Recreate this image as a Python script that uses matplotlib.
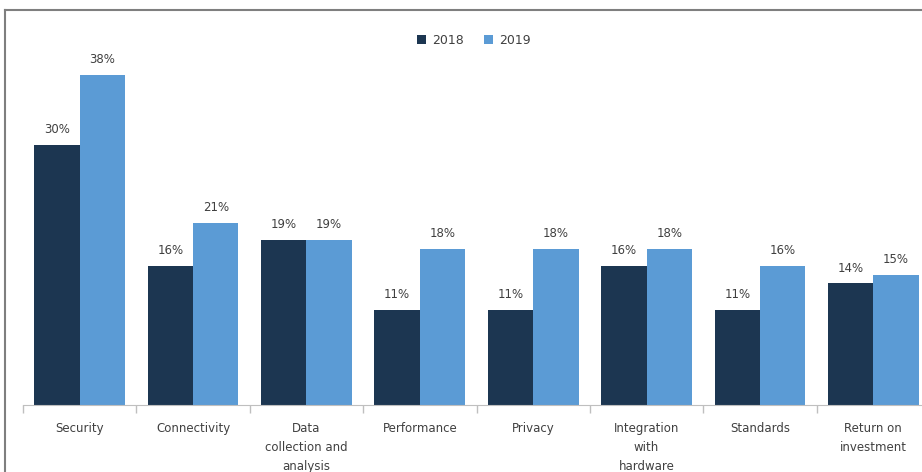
import matplotlib.pyplot as plt
import numpy as np
from matplotlib.lines import Line2D

categories = ["Security", "Connectivity", "Data\ncollection and\nanalysis", "Performance",
              "Privacy", "Integration\nwith\nhardware", "Standards", "Return on\ninvestment"]
vals_2018 = [30, 16, 19, 11, 11, 16, 11, 14]
vals_2019 = [38, 21, 19, 18, 18, 18, 16, 15]

c2018 = "#1c3651"
c2019 = "#5b9bd5"
txt = "#404040"

fig = plt.figure(figsize=(9.22, 4.72), dpi=100)
# axes spans past right edge, like the cropped reference
ax = fig.add_axes([23 / 922, 67 / 472, 907 / 922, 385 / 472])

x = np.arange(len(categories))
w = 0.4
b1 = ax.bar(x - w / 2, vals_2018, w, color=c2018, label="2018")
b2 = ax.bar(x + w / 2, vals_2019, w, color=c2019, label="2019")

for bars, vals in ((b1, vals_2018), (b2, vals_2019)):
    for r, v in zip(bars, vals):
        ax.text(r.get_x() + r.get_width() / 2, v + 1.0, f"{v}%", ha="center", va="bottom",
                fontsize=8.5, color=txt)

ax.set_xlim(-0.5, len(categories) - 0.5)
ax.set_ylim(0, 385 / 8.68)
ax.set_xticks(np.arange(len(categories) + 1) - 0.5, minor=False)
ax.set_xticklabels([])
ax.tick_params(axis="x", length=6, color="#bfbfbf", width=1)
ax.set_xticks(x, minor=True)
ax.set_xticklabels(categories, minor=True, fontsize=8.5, color=txt, linespacing=1.6)
ax.tick_params(axis="x", which="minor", length=0, pad=12)
ax.set_yticks([])
for s in ["top", "right", "left"]:
    ax.spines[s].set_visible(False)
ax.spines["bottom"].set_color("#bfbfbf")

ax.legend(loc="center", bbox_to_anchor=(0.497, 0.948), ncol=2, frameon=False,
          fontsize=9, handlelength=0.7, handleheight=0.7, columnspacing=1.6,
          handletextpad=0.5, labelcolor=txt)

# outer frame (cropped box)
fig.add_artist(Line2D([5 / 922, 1.0], [1 - 10 / 472, 1 - 10 / 472], color="#7f7f7f", lw=1.5,
                      transform=fig.transFigure))
fig.add_artist(Line2D([5 / 922, 5 / 922], [0, 1 - 10 / 472], color="#7f7f7f", lw=1.5,
                      transform=fig.transFigure))

fig.savefig("out.png", dpi=100)
